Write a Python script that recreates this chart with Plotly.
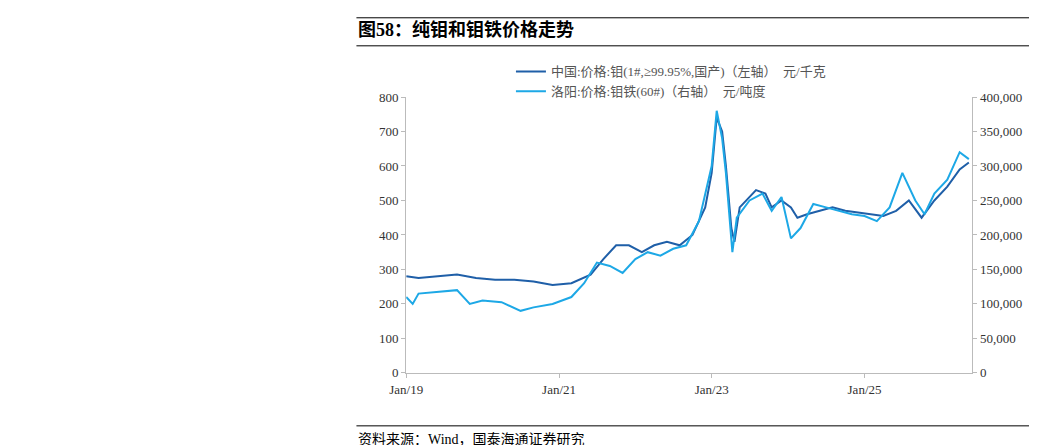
import plotly.graph_objects as go

# 中国:价格:钼 (元/千克)
mo_dates = ["2019-01-01", "2019-03-01", "2019-06-01", "2019-09-01", "2019-12-01", "2020-03-01",
            "2020-06-01", "2020-09-01", "2020-12-01", "2021-03-01", "2021-06-01", "2021-08-01",
            "2021-10-01", "2021-12-01", "2022-02-01", "2022-04-01", "2022-06-01", "2022-08-01",
            "2022-10-01", "2022-12-01", "2023-01-01", "2023-01-25", "2023-02-20", "2023-03-10",
            "2023-04-05", "2023-04-20", "2023-05-15", "2023-06-15", "2023-08-01", "2023-09-15",
            "2023-10-15", "2023-12-01", "2024-01-15", "2024-02-15", "2024-04-01", "2024-06-01",
            "2024-08-01", "2024-10-01", "2024-12-01", "2025-02-01", "2025-04-01", "2025-06-01",
            "2025-08-01", "2025-10-01", "2025-12-01", "2026-02-01", "2026-04-01", "2026-05-15"]
mo_vals = [280, 275, 280, 285, 275, 270, 270, 265, 255, 260, 285, 330, 370, 370, 350, 370, 380,
           370, 400, 480, 580, 740, 700, 600, 420, 380, 480, 500, 530, 520, 480, 500, 480, 450,
           460, 470, 480, 470, 465, 460, 455, 470, 500, 450, 500, 540, 590, 610]

# 洛阳:价格:钼铁(60#) (元/吨度)
fe_dates = ["2019-01-01", "2019-02-01", "2019-03-01", "2019-06-01", "2019-09-01", "2019-11-01",
            "2020-01-01", "2020-04-01", "2020-07-01", "2020-09-01", "2020-12-01", "2021-03-01",
            "2021-05-01", "2021-07-01", "2021-09-01", "2021-11-01", "2022-01-01", "2022-03-01",
            "2022-05-01", "2022-07-01", "2022-09-01", "2022-11-01", "2023-01-01", "2023-01-25",
            "2023-02-20", "2023-03-10", "2023-04-10", "2023-05-01", "2023-07-01", "2023-09-01",
            "2023-10-15", "2023-12-01", "2024-01-15", "2024-03-01", "2024-05-01", "2024-07-01",
            "2024-09-01", "2024-11-01", "2025-01-01", "2025-03-01", "2025-05-01", "2025-07-01",
            "2025-09-01", "2025-10-15", "2025-12-01", "2026-02-01", "2026-04-01", "2026-05-15"]
fe_vals = [110000, 100000, 115000, 117500, 120000, 100000, 105000, 102500, 90000, 95000, 100000,
           110000, 130000, 160000, 155000, 145000, 165000, 175000, 170000, 180000, 185000,
           220000, 300000, 380000, 340000, 290000, 175000, 225000, 250000, 260000, 235000,
           255000, 195000, 210000, 245000, 240000, 235000, 230000, 227500, 220000, 240000,
           290000, 250000, 230000, 260000, 280000, 320000, 310000]

tick_vals = ["2019-01-01", "2021-01-01", "2023-01-01", "2025-01-01"]
tick_text = ["Jan/19", "Jan/21", "Jan/23", "Jan/25"]

fig = go.Figure()
fig.add_trace(go.Scatter(x=mo_dates, y=mo_vals, mode="lines", line=dict(color="#1F5FA8", width=2),
                         name="中国:价格:钼(1#,≥99.95%,国产)（左轴）  元/千克"))
fig.add_trace(go.Scatter(x=fe_dates, y=fe_vals, mode="lines", line=dict(color="#1DA8E6", width=2),
                         name="洛阳:价格:钼铁(60#)（右轴）  元/吨度", yaxis="y2"))

axis_font = dict(family="Liberation Serif, Noto Sans CJK SC", size=13, color="#333")
fig.update_layout(
    width=1037, height=445, paper_bgcolor="white", plot_bgcolor="white",
    margin=dict(l=0, r=0, t=0, b=0, autoexpand=False), font=axis_font,
    xaxis=dict(domain=[0.384, 0.930], range=["2019-01-01", "2026-06-01"], tickvals=tick_vals,
               ticktext=tick_text, showgrid=False, showline=True, linecolor="#bbb",
               ticks="outside", tickcolor="#bbb", ticklen=4, automargin=False),
    yaxis=dict(domain=[0.18, 0.80], range=[0, 800], dtick=100, showgrid=False, showline=True,
               linecolor="#bbb", ticks="outside", tickcolor="#bbb", ticklen=4, automargin=False),
    yaxis2=dict(overlaying="y", side="right", range=[0, 400000], dtick=50000, tickformat=",",
                showgrid=False, showline=True, linecolor="#bbb", ticks="outside",
                tickcolor="#bbb", ticklen=4, anchor="x", automargin=False),
    legend=dict(x=0.485, y=0.835, xanchor="left", yanchor="middle", bgcolor="rgba(0,0,0,0)",
                font=dict(family="Liberation Serif, Noto Sans CJK SC", size=13, color="#555"),
                tracegroupgap=2),
    showlegend=True,
)

fig.add_annotation(text="<b>图58：纯钼和钼铁价格走势</b>", x=0.336, y=0.951, xref="paper",
                   yref="paper", xanchor="left", yanchor="middle", showarrow=False,
                   font=dict(family="Liberation Serif, Noto Sans CJK SC", size=18, color="#000"))
fig.add_annotation(text="资料来源：Wind，国泰海通证券研究", x=0.336, y=0.03, xref="paper",
                   yref="paper", xanchor="left", yanchor="middle", showarrow=False,
                   font=dict(family="Liberation Serif, Noto Sans CJK SC", size=14, color="#000"))
for yy in [0.978, 0.915, 0.061]:
    fig.add_shape(type="line", xref="paper", yref="paper", x0=0.336, x1=0.993, y0=yy, y1=yy,
                  line=dict(color="#000", width=1))

fig.write_html("out.html")
